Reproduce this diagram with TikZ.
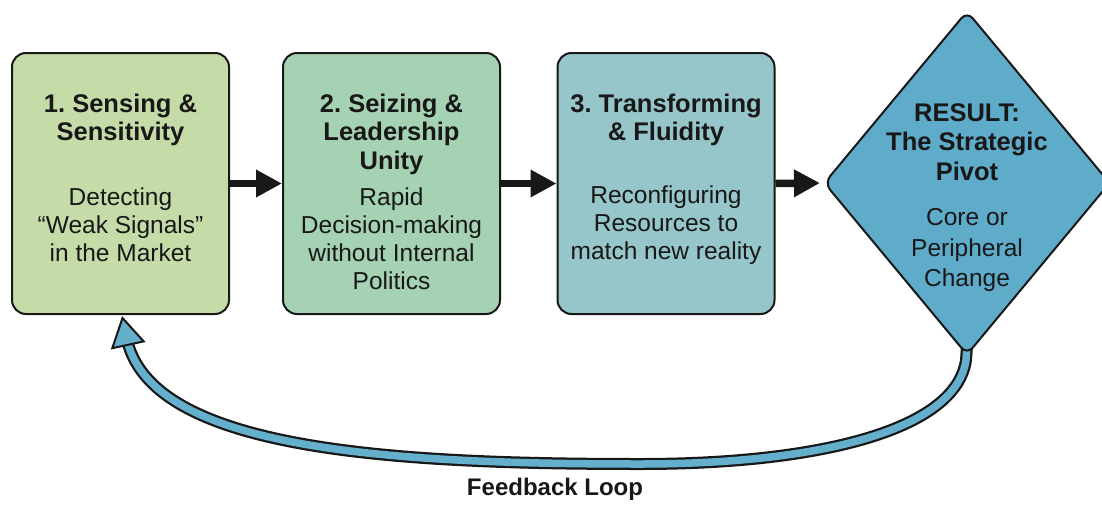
\documentclass[tikz,border=0pt]{standalone}
\usepackage{fontspec}
\setmainfont{Liberation Sans}
\usetikzlibrary{arrows.meta,shapes.geometric,calc}
\frenchspacing

\definecolor{sensefill}{RGB}{197,220,168}
\definecolor{seizefill}{RGB}{166,210,180}
\definecolor{transfill}{RGB}{150,198,201}
\definecolor{pivotfill}{RGB}{94,172,202}
\definecolor{loopfill}{RGB}{100,176,204}
\definecolor{inkdark}{RGB}{24,24,24}

\pgfdeclarelayer{back}
\pgfsetlayers{back,main}

\begin{document}
\begin{tikzpicture}[x=1pt,y=-1pt,
  stage/.style={draw=inkdark, line width=2pt, rounded corners=14pt,
    minimum width=217pt, minimum height=261pt, inner sep=0pt},
  pivot/.style={diamond, draw=inkdark, line width=2pt, rounded corners=9pt,
    minimum width=286pt, minimum height=344pt, inner sep=0pt, fill=pivotfill},
  headtext/.style={font=\bfseries\fontsize{25.5}{28.5}\selectfont, align=center,
    text=inkdark, inner sep=0pt},
  bodytext/.style={font=\fontsize{24.5}{28}\selectfont, align=center,
    text=inkdark, inner sep=0pt},
  flow/.style={draw=inkdark, line width=7.5pt,
    -{Triangle[length=26pt,width=26pt]}},
]
\useasboundingbox (0,0) rectangle (1102,506);
\begin{pgfonlayer}{back}
  \fill[white] (0,0) rectangle (1102,506);
\end{pgfonlayer}

% the three capability stages
\node[stage, fill=sensefill] (s1) at (120.5,183.5) {};
\node[stage, fill=seizefill] (s2) at (391.5,183.5) {};
\node[stage, fill=transfill] (s3) at (666,183.5) {};

% outcome diamond
\node[pivot] (pv) at (967,183) {};

% stage texts
\node[headtext] (h1) at (120.5,120) {1. Sensing \&\\Sensitivity};
\node[bodytext] (b1) at (120.5,225) {Detecting\\``Weak Signals''\\in the Market};

\node[headtext] (h2) at (391.5,134) {2. Seizing \&\\Leadership\\Unity};
\node[bodytext] (b2) at (391.5,239) {Rapid\\Decision-making\\without Internal\\Politics};

\node[headtext] (h3) at (666,120) {3. Transforming\\\& Fluidity};
\node[bodytext] (b3) at (666,225) {Reconfiguring\\Resources to\\match new reality};

\node[headtext, font=\bfseries\fontsize{25.5}{29.5}\selectfont] (hp) at (967,142)
  {RESULT:\\The Strategic\\Pivot};
\node[bodytext, font=\fontsize{24.5}{30.5}\selectfont] (bp) at (967,250)
  {Core or\\Peripheral\\Change};

% forward flow
\draw[flow] (s1.east) -- (s2.west);
\draw[flow] (s2.east) -- (s3.west);
\draw[flow, shorten >=3pt] (s3.east) -- (pv.west);

% feedback loop back to sensing
\coordinate (fbtip) at ($(s1.south)+(2,3)$);
\coordinate (fbend) at ($(fbtip)+(5,24)$);
\begin{pgfonlayer}{back}
  \draw[inkdark, line width=12pt]
    ($(pv.south)+(0,-10)$) -- ($(pv.south)+(-1,4)$)
    .. controls (956,430) and (820,464) .. (640,464)
    .. controls (380,464) and (155,448) .. (fbend);
  \draw[loopfill, line width=7.5pt]
    ($(pv.south)+(0,-10)$) -- ($(pv.south)+(-1,4)$)
    .. controls (956,430) and (820,464) .. (640,464)
    .. controls (380,464) and (155,448) .. (fbend);
\end{pgfonlayer}
\draw[draw=inkdark, fill=loopfill, line width=2pt, line join=miter]
  (fbtip) -- ++(-10.2,30.2) -- ++(31.4,-6.8) -- cycle;

\node[font=\bfseries\fontsize{24}{28}\selectfont, text=inkdark] (fbl)
  at (555,489) {Feedback Loop};
\end{tikzpicture}
\end{document}
